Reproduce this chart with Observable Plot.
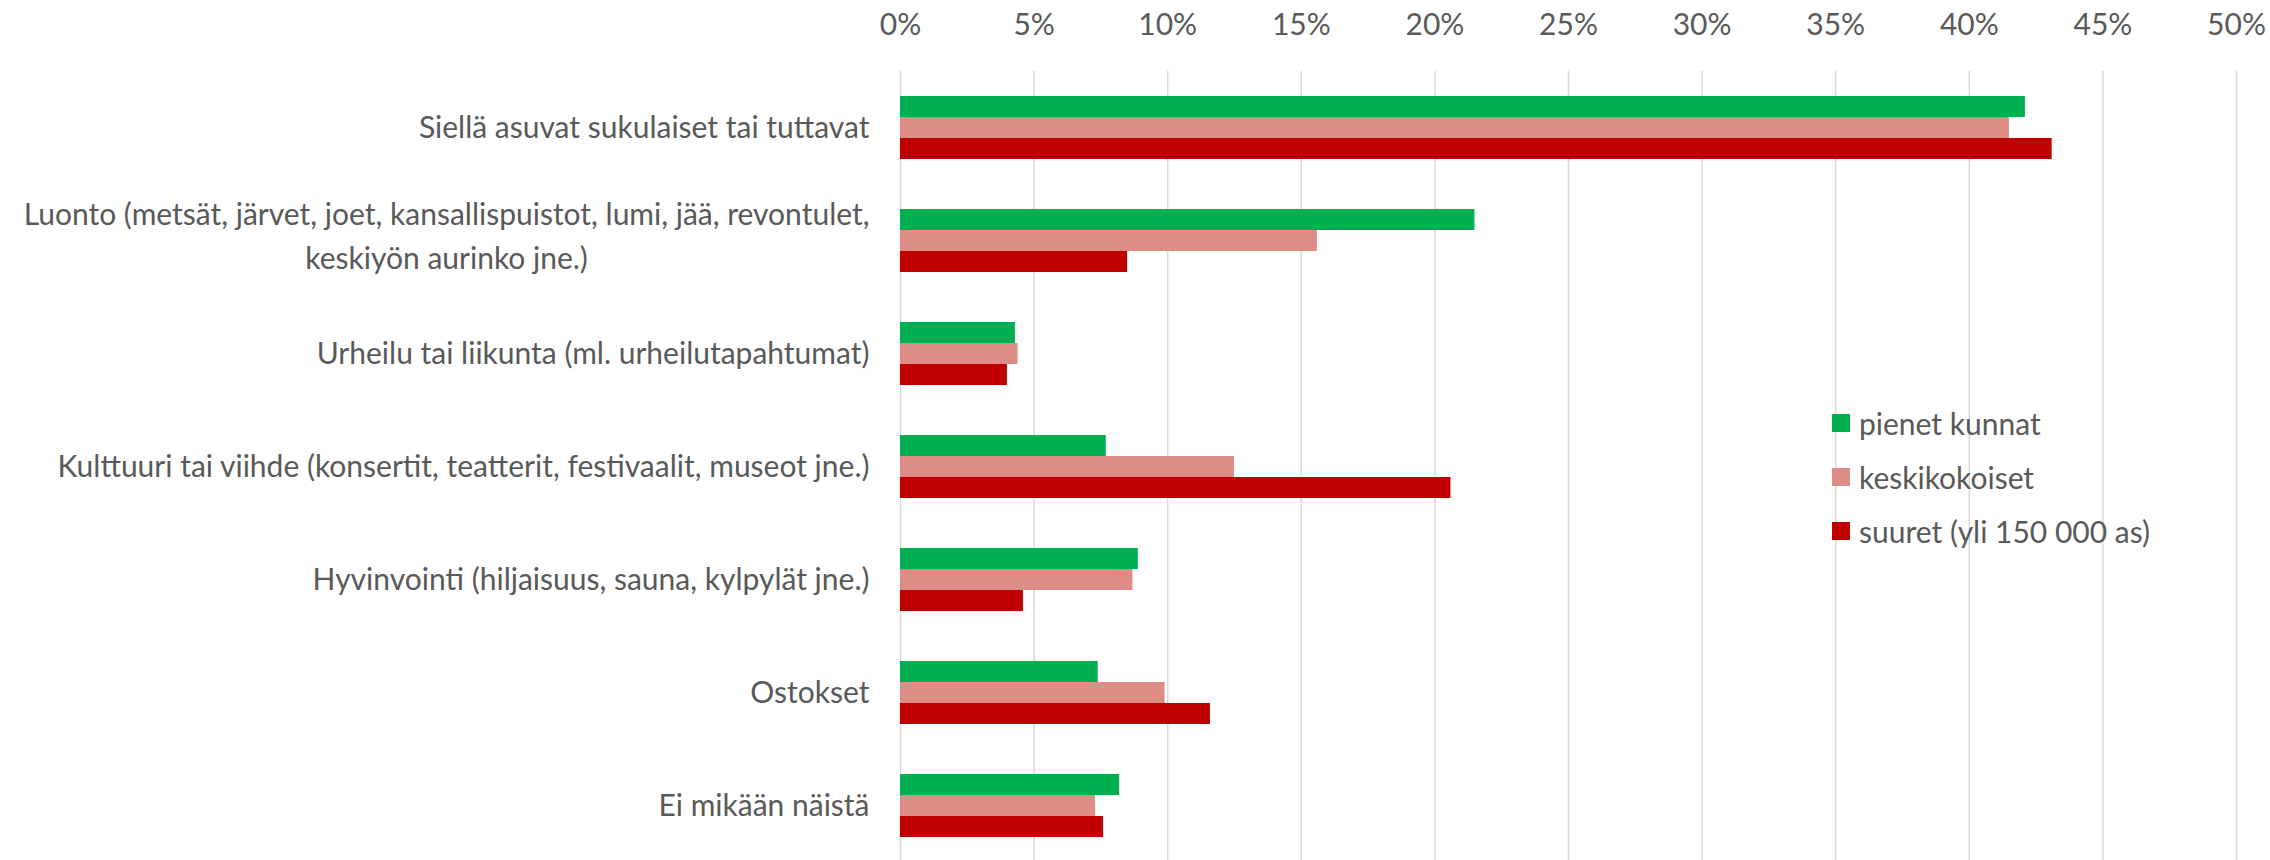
<!DOCTYPE html>
<html>
<head>
<meta charset="utf-8">
<script src="https://cdn.jsdelivr.net/npm/d3@7"></script>
<script src="https://cdn.jsdelivr.net/npm/@observablehq/plot@0.6"></script>
<style>
  html, body { margin: 0; padding: 0; background: #fff; }
  #wrap { position: relative; width: 2270px; height: 860px; overflow: hidden; }
  #legend { position: absolute; left: 1832px; top: 396px; width: 430px; }
  #legend .lg-swatch { height: 54px; margin: 0; padding: 0; font-size: 30px; color: #595959; font-family: Lato, sans-serif; display: flex; align-items: center; }
  #legend .lg-swatch svg { margin-right: 9px; }
</style>
</head>
<body>
<div id="wrap"></div>
<script>
// ---- data ----
const categories = [
  "Siellä asuvat sukulaiset tai tuttavat",
  "Luonto (metsät, järvet, joet, kansallispuistot, lumi, jää, revontulet, keskiyön aurinko jne.)",
  "Urheilu tai liikunta (ml. urheilutapahtumat)",
  "Kulttuuri tai viihde (konsertit, teatterit, festivaalit, museot jne.)",
  "Hyvinvointi (hiljaisuus, sauna, kylpylät jne.)",
  "Ostokset",
  "Ei mikään näistä"
];
const categoryLabels = [
  "Siellä asuvat sukulaiset tai tuttavat",
  "Luonto (metsät, järvet, joet, kansallispuistot, lumi, jää, revontulet,\nkeskiyön aurinko jne.)",
  "Urheilu tai liikunta (ml. urheilutapahtumat)",
  "Kulttuuri tai viihde (konsertit, teatterit, festivaalit, museot jne.)",
  "Hyvinvointi (hiljaisuus, sauna, kylpylät jne.)",
  "Ostokset",
  "Ei mikään näistä"
];
const series = ["pienet kunnat", "keskikokoiset", "suuret (yli 150 000 as)"];
const colors = ["#00B050", "#DD8D86", "#C00000"];
const pienet = [42.1, 21.5, 4.3, 7.7, 8.9, 7.4, 8.2];
const keskikokoiset = [41.5, 15.6, 4.4, 12.5, 8.7, 9.9, 7.3];
const suuret = [43.1, 8.5, 4.0, 20.6, 4.6, 11.6, 7.6];
const xTicks = [0, 5, 10, 15, 20, 25, 30, 35, 40, 45, 50];

const seriesValues = [pienet, keskikokoiset, suuret];
const data = categories.flatMap((c, i) =>
  series.map((s, k) => ({category: c, series: s, value: seriesValues[k][i]}))
);
const labelOf = new Map(categories.map((c, i) => [c, categoryLabels[i]]));

const FONT = "Lato";
const FS = 30;
const ctx = document.createElement("canvas").getContext("2d");
ctx.font = `${FS}px ${FONT}`;
const wrapped = categoryLabels.findIndex(l => l.includes("\n"));
const firstLineW = ctx.measureText(categoryLabels[wrapped].split("\n")[0]).width;

const chart = Plot.plot({
  width: 2270,
  height: 860,
  marginTop: 69,
  marginBottom: -3,
  marginLeft: 900,
  marginRight: 34,
  style: {fontFamily: FONT, fontSize: FS + "px", color: "#595959", background: "#fff", overflow: "visible"},
  x: {domain: [0, 50], axis: null},
  y: {domain: series, paddingInner: 0, paddingOuter: 1.118, axis: null},
  fy: {domain: categories, paddingInner: 0, paddingOuter: 0, axis: null},
  color: {domain: series, range: colors},
  marks: [
    Plot.gridX(xTicks, {stroke: "#d9d9d9", strokeOpacity: 1, strokeWidth: 1.5}),
    Plot.barX(data, {x: "value", y: "series", fy: "category", fill: "series"}),
    Plot.axisX({anchor: "top", ticks: xTicks, tickSize: 0, tickPadding: 37, tickFormat: d => d + "%", label: null}),
    Plot.axisFy({anchor: "left", ticks: categories.filter((c, i) => i !== wrapped), tickSize: 0, tickPadding: 31, label: null, textAnchor: "end"}),
    Plot.axisFy({anchor: "left", ticks: [categories[wrapped]], tickSize: 0, tickPadding: 31 + firstLineW / 2,
      tickFormat: c => labelOf.get(c), label: null, textAnchor: "middle", lineHeight: 1.45, dy: -8})
  ]
});

const wrap = document.getElementById("wrap");
wrap.appendChild(chart);

const legend = Plot.legend({
  color: {domain: series, range: colors},
  legend: "swatches",
  columns: 1,
  swatchSize: 18,
  className: "lg",
  style: {fontSize: "30px", fontFamily: FONT, color: "#595959"}
});
const lg = document.createElement("div");
lg.id = "legend";
lg.appendChild(legend);
wrap.appendChild(lg);
</script>
</body>
</html>
